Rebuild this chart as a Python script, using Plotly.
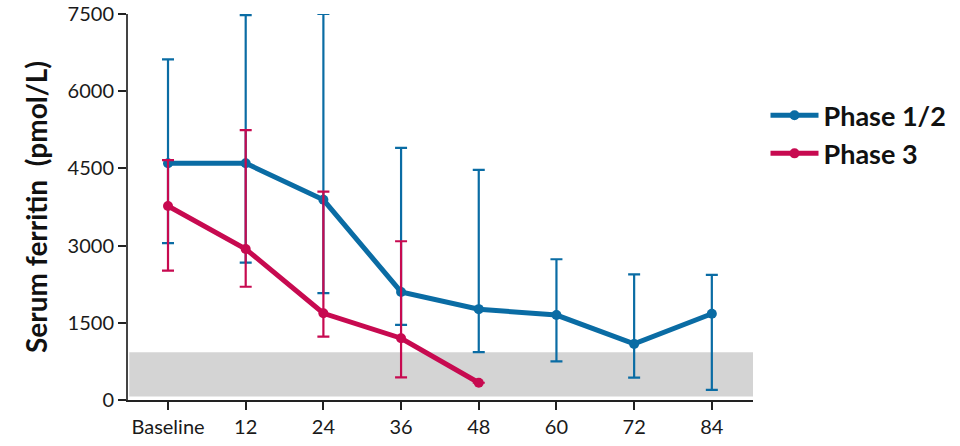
import plotly.graph_objects as go

# Visits (weeks) on the categorical x axis
visits = ["Baseline", "12", "24", "36", "48", "60", "72", "84"]

# Phase 1/2: mean serum ferritin with upper/lower error limits (pmol/L)
p12_mean = [4600, 4600, 3890, 2100, 1765, 1650, 1090, 1675]
p12_upper = [6620, 7480, 7500, 4900, 4470, 2735, 2440, 2430]
p12_lower = [3050, 2670, 2075, 1460, 930, 750, 435, 195]

# Phase 3: available through week 48 only
p3_visits = ["Baseline", "12", "24", "36", "48"]
p3_mean = [3770, 2935, 1685, 1200, 335]
p3_upper = [4660, 5245, 4050, 3085, 335]
p3_lower = [2515, 2200, 1230, 440, 335]

# Reference range band
band_low, band_high = 70, 930

BLUE = "#0A6CA4"
RED = "#C70A50"
FONT = "Lato, 'Open Sans', sans-serif"


def series(name, x, mean, upper, lower, color, group):
    return go.Scatter(
        x=x, y=mean, name=name, mode="lines+markers",
        line=dict(color=color, width=5),
        marker=dict(color=color, size=10),
        error_y=dict(
            type="data", symmetric=False,
            array=[u - m for u, m in zip(upper, mean)],
            arrayminus=[m - l for m, l in zip(mean, lower)],
            color=color, thickness=2.2, width=6,
        ),
        legendgroup=group,
        cliponaxis=False,
    )


fig = go.Figure()
fig.add_trace(series("Phase 1/2", visits, p12_mean, p12_upper, p12_lower, BLUE, "a"))
fig.add_trace(series("Phase 3", p3_visits, p3_mean, p3_upper, p3_lower, RED, "b"))

fig.add_shape(
    type="rect", xref="paper", yref="y", x0=0.002, x1=1.0,
    y0=band_low, y1=band_high, fillcolor="#D4D4D4",
    line=dict(width=0), layer="below",
)

fig.update_layout(
    width=960, height=446,
    margin=dict(l=128, r=207, t=14, b=46, autoexpand=False),
    paper_bgcolor="white", plot_bgcolor="white",
    font=dict(family=FONT, color="#1a1a1a", size=17),
    showlegend=True,
    legend=dict(
        x=1.02, y=0.80, xanchor="left", yanchor="top",
        font=dict(size=27, color="#111", family=FONT, weight="bold"),
        tracegroupgap=0, itemwidth=48,
    ),
)

fig.update_xaxes(
    type="category", categoryorder="array", categoryarray=visits,
    range=[-0.515, 7.53], automargin=False,
    showline=True, linecolor="#222", linewidth=2,
    ticks="outside", ticklen=8, tickwidth=1.5, tickcolor="#222",
    showgrid=False, zeroline=False,
    tickfont=dict(size=20),
)

fig.update_yaxes(
    range=[0, 7500], tickvals=[0, 1500, 3000, 4500, 6000, 7500],
    automargin=False,
    showline=True, linecolor="#444", linewidth=2,
    ticks="outside", ticklen=8, tickwidth=1.5, tickcolor="#222",
    showgrid=False, zeroline=False,
    tickfont=dict(size=20),
    title=dict(text="Serum ferritin  (pmol/L)", standoff=12,
               font=dict(size=28, weight="bold", color="#111")),
)

fig.write_html("out.html")
